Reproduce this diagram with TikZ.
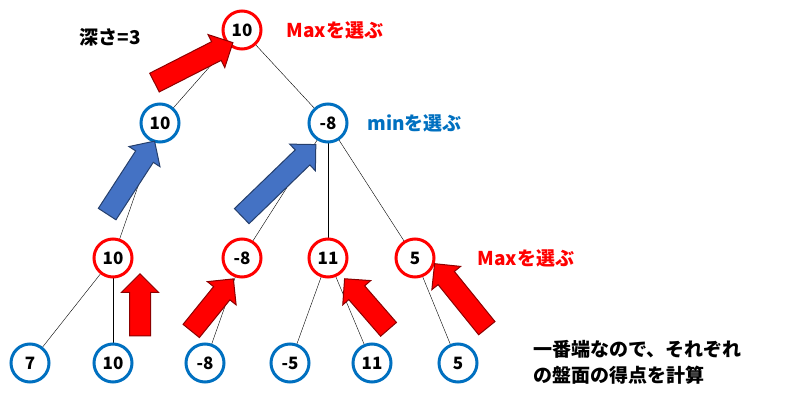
\documentclass[tikz,border=0pt]{standalone}
\usepackage{fontspec}
\setmainfont{Noto Sans CJK JP}
\usetikzlibrary{shapes.arrows}
\definecolor{nred}{RGB}{255,0,0}
\definecolor{nblue}{RGB}{0,112,192}
\definecolor{ablue}{RGB}{68,114,196}
\tikzset{
	mx/.style={circle, draw=nred, line width=3pt, fill=white, minimum size=38pt, inner sep=0pt, font=\bfseries\fontsize{17}{20}\selectfont},
	mn/.style={circle, draw=nblue, line width=3pt, fill=white, minimum size=38pt, inner sep=0pt, font=\bfseries\fontsize{17}{20}\selectfont},
	bigarrow/.style={single arrow, inner xsep=0pt, inner ysep=10pt, single arrow head extend=8pt, line width=1pt},
	rarrow/.style={bigarrow, fill=nred, draw=nred!55!black},
	barrow/.style={bigarrow, fill=ablue, draw=ablue!55!black},
	lbl/.style={font=\bfseries\fontsize{19}{26}\selectfont, anchor=west}
}
\begin{document}
\begin{tikzpicture}[x=1pt, y=-1pt]
	\useasboundingbox (0,0) rectangle (805,401);
	% tree edges first
	\coordinate (r) at (242,30);
	\coordinate (a) at (160,123);
	\coordinate (b) at (328,123);
	\draw (r) -- (a); \draw (r) -- (b);
	\draw (a) -- (113,258) coordinate (c1);
	\draw (b) -- (242,258) coordinate (c2);
	\draw (b) -- (328,258) coordinate (c3);
	\draw (b) -- (415,258) coordinate (c4);
	\draw (c1) -- (30,363) coordinate (d1);
	\draw (c1) -- (113,363) coordinate (d2);
	\draw (c2) -- (205,363) coordinate (d3);
	\draw (c3) -- (290,363) coordinate (d4);
	\draw (c3) -- (372,363) coordinate (d5);
	\draw (c4) -- (458,363) coordinate (d6);
	% nodes
	\node[mx] (root) at (r) {10};
	\node[mn] (m1) at (a) {10};
	\node[mn] (m2) at (b) {-8};
	\node[mx] (x1) at (c1) {10};
	\node[mx] (x2) at (c2) {-8};
	\node[mx] (x3) at (c3) {11};
	\node[mx] (x4) at (c4) {5};
	\node[mn] (l1) at (d1) {7};
	\node[mn] (l2) at (d2) {10};
	\node[mn] (l3) at (d3) {-8};
	\node[mn] (l4) at (d4) {-5};
	\node[mn] (l5) at (d5) {11};
	\node[mn] (l6) at (d6) {5};
	% arrows
	\node[rarrow, minimum height=88pt, rotate=27] (up0) at (189,65) {};
	\node[barrow, minimum height=87pt, rotate=57] (up1) at (128,182) {};
	\node[barrow, minimum height=103pt, rotate=44] (up2) at (275,184) {};
	\node[rarrow, minimum height=62pt, rotate=90] (up3) at (140,310) {};
	\node[rarrow, minimum height=67pt, rotate=51] (up4) at (209,309) {};
	\node[rarrow, minimum height=67pt, rotate=131] (up5) at (370,308) {};
	\node[rarrow, minimum height=83pt, rotate=129] (up6) at (464,300) {};
	% labels
	\node[lbl] (depth) at (76,37) {深さ=3};
	\node[lbl, text=nred] (sel1) at (283,30) {Maxを選ぶ};
	\node[lbl, text=nblue] (sel2) at (364,123) {minを選ぶ};
	\node[lbl, text=nred] (sel3) at (474,258) {Maxを選ぶ};
	\node[lbl, align=left, anchor=north west, inner sep=0pt] (note) at (533,340) {一番端なので、それぞれ\\の盤面の得点を計算};
\end{tikzpicture}
\end{document}
